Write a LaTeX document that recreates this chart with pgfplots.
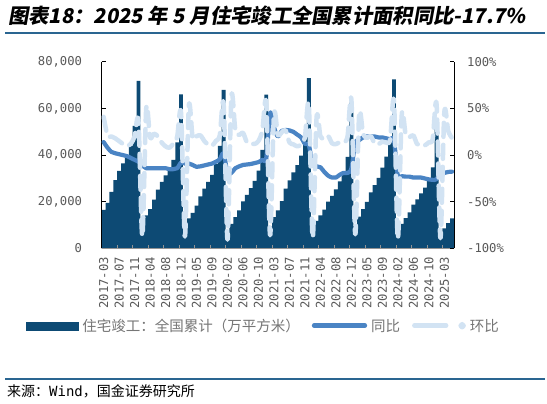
\documentclass[border=0pt]{standalone}
\usepackage{fontspec}
\usepackage{pgfplots}
\pgfplotsset{compat=1.18}
\usepackage{pgfplotstable}
\setmainfont{DejaVu Sans}
\newfontfamily\cjk{Noto Sans CJK SC}
\newfontfamily\titlef[FakeSlant=0.18]{Noto Sans CJK SC}
\newfontfamily\monof{DejaVu Sans Mono}
\definecolor{barc}{HTML}{0D4A74}
\definecolor{yoyc}{HTML}{4A84C4}
\definecolor{momc}{HTML}{D2E3F3}
\definecolor{labelgray}{HTML}{595959}
\definecolor{leggray}{HTML}{767676}
\definecolor{rulec}{HTML}{2A6591}
\pgfplotstableread{
k bar yoy mom
0 16500 14 41
1 19600 8 21
2 24300 3.5 20
3 29300 2 18
4 33300 1 15
5 36500 0 12
6 39500 -1 10
7 44000 -3 12
8 52500 -5 20
9 71815 -7 36
10 9300 -11 -87
11 14200 -14 50
12 16900 -14 19
13 20900 -14 23
14 25200 -14 20
15 28600 -14 13.5
16 31300 -14 9.4
17 33800 -15 8
18 38000 -15 12.4
19 45500 -14 19.7
20 66016 -8 45
21 8460 -9 -87.2
22 12920 -9 52.7
23 15300 -10.5 18.4
24 18400 -12.5 20.3
25 22300 -12 21.2
26 25700 -11 15.2
27 28600 -10 11.3
28 31500 -9 10.1
29 36300 -7 15.2
30 44000 -4.5 21.2
31 68011 2 54.6
32 6450 -19 -90.5
33 10500 -19 62.8
34 13400 -14 27.6
35 16300 -12 21.6
36 20200 -10.5 23.9
37 23000 -10 13.9
38 25900 -9.5 12.6
39 29000 -8.5 12.0
40 33400 -7.5 15.2
41 42300 -5 26.6
42 65910 -3.1 55.8
43 9350 45 -85.8
44 13400 30 43.3
45 16300 20 21.6
46 20300 26 24.5
47 25700 27 26.6
48 29200 26.5 13.6
49 32600 25 11.6
50 35700 22 9.5
51 39800 19 11.5
52 47500 12 19.3
53 73016 10.8 53.7
54 8420 -10 -88.5
55 11790 -12 40.0
56 14180 -13 20.3
57 16650 -18 17.4
58 20050 -22 20.4
59 22600 -24 12.7
60 25300 -24 11.9
61 28800 -21 13.8
62 32800 -19 13.9
63 39300 -19 19.8
64 62539 -14.3 59.1
65 9510 13 -84.8
66 13680 16 43.8
67 16870 19 23.3
68 19980 20 18.4
69 24060 20 20.4
70 27120 20 12.7
71 30300 19 11.7
72 34700 19 14.5
73 39400 18 13.5
74 45900 17 16.5
75 72433 15.8 57.8
76 7420 -22 -89.8
77 10600 -22.5 42.9
78 12990 -23 22.5
79 15500 -23 19.3
80 18800 -24 21.3
81 21000 -24 11.7
82 23600 -24 12.4
83 26100 -25 10.6
84 29700 -26 13.8
85 34800 -26.5 17.2
86 53741 -25.8 54.4
87 5950 -19 -88.9
88 8650 -19 45.4
89 10900 -18 26.0
90 12900 -17.7 18.3
}\data
\begin{document}
\begin{tikzpicture}
\useasboundingbox (0,0) rectangle (547bp,404bp);
\fill[white] (0,0) rectangle (547bp,404bp);
\begin{axis}[
  at={(101.7bp,155.5bp)}, anchor=south west,
  scale only axis, width=352.3bp, height=186.7bp,
  xmin=-0.5, xmax=90.5, ymin=0, ymax=80000,
  scaled y ticks=false,
  axis on top,
  axis x line*=bottom, axis y line*=left,
  separate axis lines,
  x axis line style={draw=gray!85, line width=0.8bp, -},
  y axis line style={draw=black, line width=0.8bp, -},
  tick align=inside,
  xtick={0,4,...,88},
  xticklabels={2017-03,2017-07,2017-11,2018-04,2018-08,2018-12,2019-05,2019-09,2020-02,2020-06,2020-10,2021-03,2021-07,2021-11,2022-04,2022-08,2022-12,2023-05,2023-09,2024-02,2024-06,2024-10,2025-03},
  major x tick style={draw=none},
  minor xtick={-0.5,3.5,...,87.5},
  minor x tick style={draw=gray!85, line width=0.6bp},
  minor tick length=3bp,
  xticklabel style={font=\monof\fontsize{12.2bp}{14bp}\selectfont, text=labelgray, rotate=90, anchor=east, inner sep=0pt},
  xticklabel shift=8.5bp,
  ytick={0,20000,40000,60000,80000},
  yticklabels={0,{20,000},{40,000},{60,000},{80,000}},
  major y tick style={draw=black, line width=0.8bp},
  major tick length=4bp,
  yticklabel style={font=\monof\fontsize{12.2bp}{14bp}\selectfont, text=labelgray, anchor=east, inner sep=0pt, xshift=-19.5bp},
]
\addplot[ybar, bar width=3.871bp, fill=barc, draw=none] table[x=k,y=bar]{\data};
\end{axis}
\begin{axis}[
  at={(101.7bp,155.5bp)}, anchor=south west,
  scale only axis, width=352.3bp, height=186.7bp,
  xmin=-0.5, xmax=90.5, ymin=-100, ymax=100,
  axis x line=none, axis y line*=right,
  y axis line style={draw=black, line width=0.8bp, -},
  tick align=inside,
  ytick={-100,-50,0,50,100},
  yticklabels={-100\%,-50\%,0\%,50\%,100\%},
  major y tick style={draw=black, line width=0.8bp},
  major tick length=4bp,
  yticklabel style={font=\monof\fontsize{12.2bp}{14bp}\selectfont, text=labelgray, anchor=west, inner sep=0pt, xshift=13bp},
  legend columns=-1,
  legend style={at={(-0.2155,-0.4135)}, anchor=west, draw=none, fill=none,
    font=\cjk\fontsize{14.5bp}{16bp}\selectfont, text=leggray, inner sep=0pt,
    /tikz/every odd column/.append style={column sep=4bp},
    /tikz/every even column/.append style={column sep=12bp},
    nodes={inner sep=0pt}},
  legend cell align=left,
]
\addlegendimage{legend image code/.code={\fill[barc] (0bp,-4bp) rectangle (52bp,4bp);}}
\addlegendentry{住宅竣工：全国累计（万平方米）}
\addplot[yoyc, line width=4.2bp, smooth, line join=round, line cap=round,
  legend image code/.code={\draw[yoyc, solid, line width=4.5bp, line cap=round] (2.25bp,0bp) -- (53bp,0bp);}]
  table[x=k,y=yoy]{\data};
\addlegendentry{同比}
\addplot[momc, line width=4.5bp, smooth, line join=round, line cap=round, dash pattern=on 14bp off 8bp,
  legend image code/.code={\draw[momc, solid, line width=4.5bp, line cap=round] (2.25bp,0bp) -- (34bp,0bp); \fill[momc] (50bp,0bp) circle (1.5bp);}]
  table[x=k,y=mom]{\data};
\addlegendentry{环比}
\end{axis}
\node[anchor=west, inner sep=0pt] at (8bp,388.5bp) {\titlef\bfseries\fontsize{20.3bp}{22bp}\selectfont 图表18：2025 年 5 月住宅竣工全国累计面积同比-17.7\%};
\draw[rulec, line width=1.5bp] (5bp,371bp) -- (545bp,371bp);
\draw[rulec, line width=1.5bp] (5bp,25bp) -- (545bp,25bp);
\node[anchor=west, inner sep=0pt] at (7bp,13bp) {\cjk\fontsize{14bp}{16bp}\selectfont 来源：{\monof Wind}，国金证券研究所};
\end{tikzpicture}
\end{document}
